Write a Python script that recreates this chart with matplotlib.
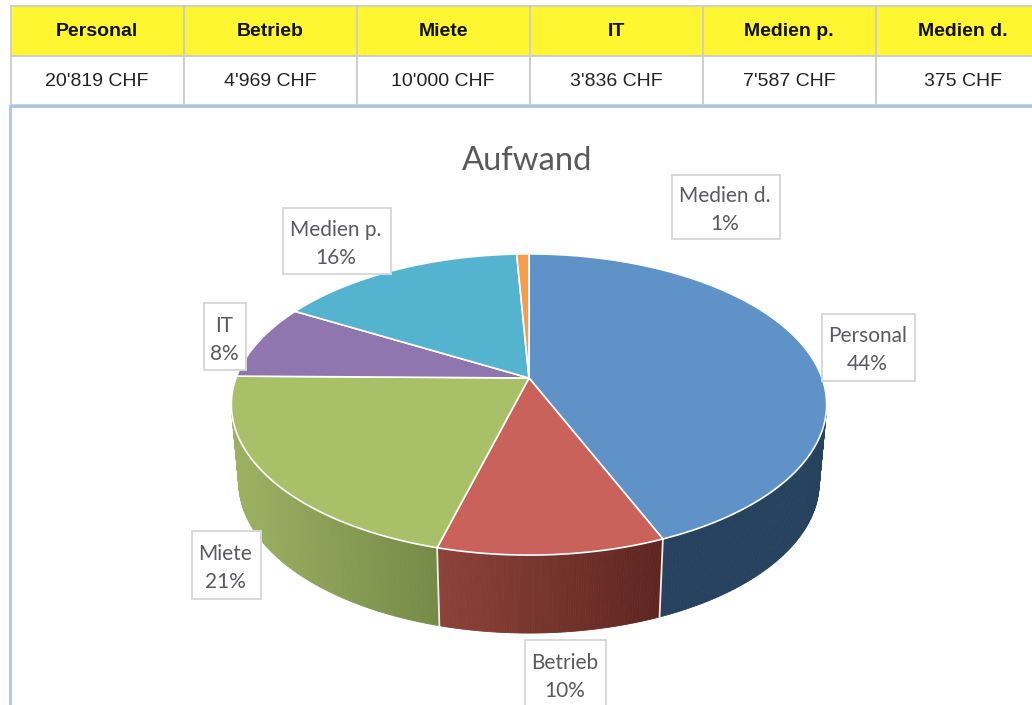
import numpy as np
import matplotlib
matplotlib.use("Agg")
import matplotlib.pyplot as plt
from matplotlib.patches import Rectangle
from matplotlib.colors import to_rgb

categories = ["Personal", "Betrieb", "Miete", "IT", "Medien p.", "Medien d."]
amounts = [20819, 4969, 10000, 3836, 7587, 375]
percent_labels = [44, 10, 21, 8, 16, 1]
amount_labels = ["20'819 CHF", "4'969 CHF", "10'000 CHF", "3'836 CHF", "7'587 CHF", "375 CHF"]
top_colors = ["#5f92c6", "#c8625a", "#a8c068", "#9076ae", "#54b4cf", "#f59d48"]
wall_left = {"Personal": "#26425f", "Betrieb": "#8c4239", "Miete": "#9cb262"}
wall_right = {"Personal": "#26425f", "Betrieb": "#5e2520", "Miete": "#758a47"}
label_boxes = {"Personal": (822, 314, 915, 381), "Betrieb": (525, 640, 606, 712),
               "Miete": (192, 531, 261, 599), "IT": (204, 303, 246, 370),
               "Medien p.": (283, 208, 391, 274), "Medien d.": (672, 175, 780, 239)}

W, H = 1032, 705
fig = plt.figure(figsize=(W / 100, H / 100), dpi=100, facecolor="white")
ax = fig.add_axes([0, 0, 1, 1])
ax.set_xlim(0, W)
ax.set_ylim(H, 0)
ax.axis("off")

# --- table ---
col_x = [11, 184, 357, 530, 703, 876, 1049]
grid = "#cccccc"
for i, (cat, txt) in enumerate(zip(categories, amount_labels)):
    x0, x1 = col_x[i], col_x[i + 1]
    ax.add_patch(Rectangle((x0, 6), x1 - x0, 49.5, fc="#fff632", ec=grid, lw=1.3, zorder=1))
    ax.add_patch(Rectangle((x0, 55.5), x1 - x0, 49.5, fc="white", ec=grid, lw=1.3, zorder=1))
    cx = (x0 + x1) / 2 - (0.5 if i < 5 else 0)
    ax.text(cx, 32, cat, ha="center", va="center", family="Liberation Sans",
            weight="bold", fontsize=14, color="#111111", zorder=3)
    ax.text(cx, 82, txt, ha="center", va="center", family="Liberation Sans",
            fontsize=14, color="#222222", zorder=3)
ax.plot([10, 10, W], [H, 106, 106], color="#a9c4e4", lw=2, zorder=2, solid_joinstyle="miter")

ax.text(527.5, 160.5, "Aufwand", ha="center", va="center", family="Lato", fontsize=23.6, color="#595959")

# --- projected pie ---
CX, CY, A, B, K = 529.0, 378.0, 293.0, 145.9, 0.176
DEPTH, BOTTOM_SCALE = 78.0, 0.975

def project(theta, bottom=False):
    u, v = np.sin(theta), np.cos(theta)
    d = 1 + K * v
    x, y = A * u / d, -B * v / d
    if bottom:
        return CX + x * BOTTOM_SCALE, CY + y + DEPTH
    return CX + x, CY + y

fractions = np.array(amounts, dtype=float) / sum(amounts)
edges = np.concatenate([[0], np.cumsum(fractions)]) * 2 * np.pi

# side wall, drawn as thin vertical strips with a horizontal gradient
wall_start, wall_end = np.radians(98), np.radians(262)
for i, cat in enumerate(categories[:3]):
    t0, t1 = max(edges[i], wall_start), min(edges[i + 1], wall_end)
    ts = np.linspace(t0, t1, 90)
    xs_all = project(ts)[0]
    c0, c1 = np.array(to_rgb(wall_left[cat])), np.array(to_rgb(wall_right[cat]))
    for a, b in zip(ts[:-1], ts[1:]):
        xt0, yt0 = project(a); xt1, yt1 = project(b)
        xb0, yb0 = project(a, True); xb1, yb1 = project(b, True)
        f = ((xt0 + xt1) / 2 - xs_all.min()) / max(np.ptp(xs_all), 1)
        col = c0 + (c1 - c0) * f
        ax.fill([xt0, xt1, xb1, xb0], [yt0, yt1, yb1, yb0], color=col, lw=0.6, zorder=4)
    # white seam on wall at the end of the slice
    if i < 2:
        xa, ya = project(t1); xb, yb = project(t1, True)
        ax.plot([xa, xb], [ya, yb], color="#eeeeee", lw=1.3, zorder=5)

# top face
for i, cat in enumerate(categories):
    ts = np.linspace(edges[i], edges[i + 1], 200)
    x, y = project(ts)
    ax.fill(np.r_[CX, x, CX], np.r_[CY, y, CY], facecolor=top_colors[i],
            edgecolor="white", lw=1.2, zorder=6, joinstyle="round")

# --- data labels ---
for cat, pct in zip(categories, percent_labels):
    x0, y0, x1, y1 = label_boxes[cat]
    ax.add_patch(Rectangle((x0, y0), x1 - x0, y1 - y0, fc="white", ec="#d8d8d8", lw=1.4, zorder=8))
    ym = (y0 + min(y1, y0 + 68)) / 2
    ax.text((x0 + x1) / 2 - 1, ym - 11, cat, ha="center", va="center", family="Lato",
            fontsize=15, color="#595962", zorder=9)
    ax.text((x0 + x1) / 2 - 1, ym + 17, f"{pct}%", ha="center", va="center", family="Lato",
            fontsize=15, color="#595962", zorder=9)

fig.savefig("out.png", dpi=100)
